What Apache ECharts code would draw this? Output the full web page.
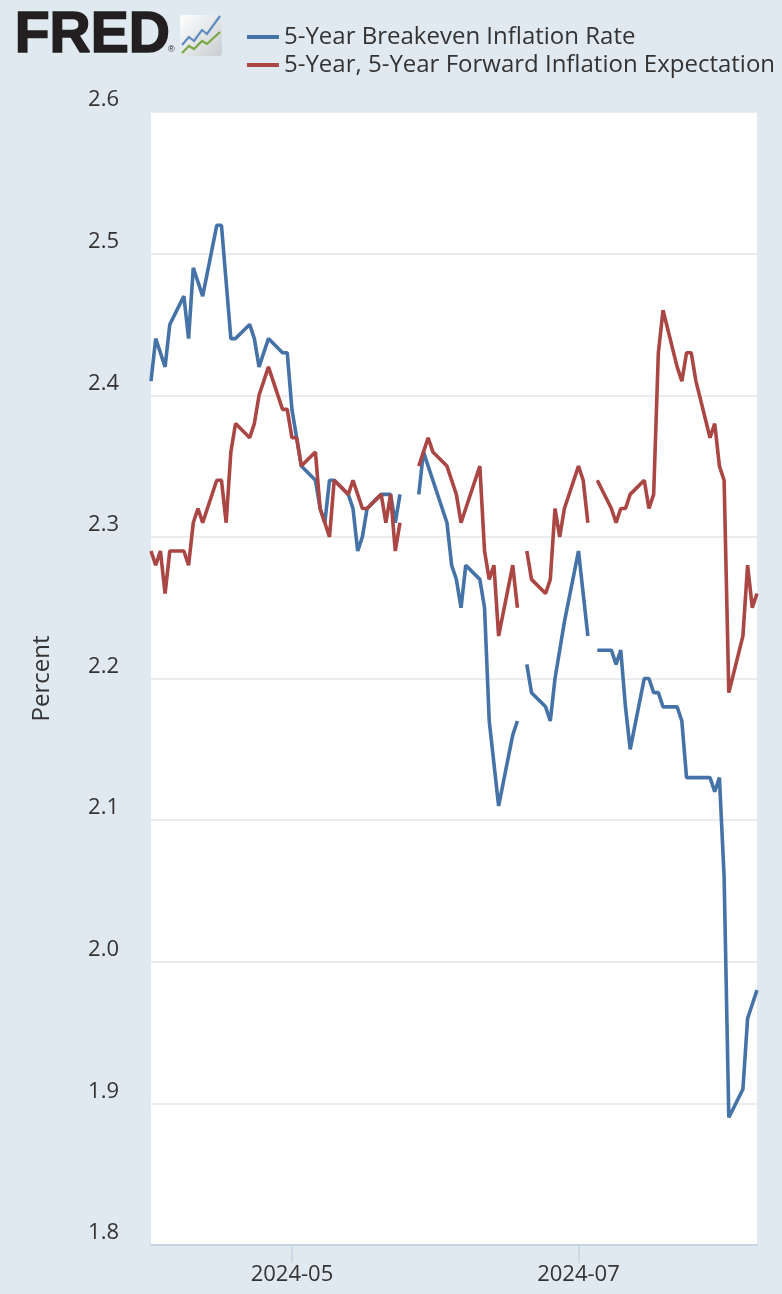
<!DOCTYPE html>
<html>
<head>
<meta charset="utf-8">
<title>FRED - 5-Year Breakeven vs 5y5y Forward</title>
<script src="https://cdn.jsdelivr.net/npm/echarts@6/dist/echarts.min.js"></script>
<style>
  html, body { margin: 0; padding: 0; background: #e1e9f0; }
  #chart { width: 782px; height: 1294px; }
</style>
</head>
<body>
<div id="chart"></div>
<script>
// axis range and labelled ticks
const startDate = '2024-04-01';
const endDate = '2024-08-08';
const tickDates = ['2024-05-01', '2024-07-01'];
const yTicks = [1.8, 1.9, 2.0, 2.1, 2.2, 2.3, 2.4, 2.5, 2.6];

const seriesNames = ['5-Year Breakeven Inflation Rate', '5-Year, 5-Year Forward Inflation Expectation'];

// 5-Year Breakeven Inflation Rate (business days, null = market holiday)
const breakevenApr = [2.41, 2.44, 2.43, 2.42, 2.45, 2.47, 2.44, 2.49, 2.48, 2.47, 2.52, 2.52, 2.48, 2.44, 2.44, 2.45, 2.44, 2.42, 2.43, 2.44, 2.43, 2.43];
const breakevenMay = [2.39, 2.37, 2.35, 2.34, 2.32, 2.31, 2.34, 2.34, 2.33, 2.32, 2.29, 2.30, 2.32, 2.33, 2.33, 2.33, 2.31, 2.33, null, 2.33, 2.36, 2.35, 2.34];
const breakevenJun = [2.31, 2.28, 2.27, 2.25, 2.28, 2.27, 2.25, 2.17, 2.14, 2.11, 2.16, 2.17, null, 2.21, 2.19, 2.18, 2.17, 2.20, 2.22, 2.24];
const breakevenJul = [2.29, 2.26, 2.23, null, 2.22, 2.22, 2.21, 2.22, 2.18, 2.15, 2.20, 2.20, 2.19, 2.19, 2.18, 2.18, 2.17, 2.13, 2.13, 2.13, 2.13, 2.12, 2.13];
const breakevenAug = [2.06, 1.89, 1.91, 1.96, 1.97, 1.98];

// 5-Year, 5-Year Forward Inflation Expectation
const forwardApr = [2.29, 2.28, 2.29, 2.26, 2.29, 2.29, 2.28, 2.31, 2.32, 2.31, 2.34, 2.34, 2.31, 2.36, 2.38, 2.37, 2.38, 2.40, 2.41, 2.42, 2.39, 2.39];
const forwardMay = [2.37, 2.37, 2.35, 2.36, 2.32, 2.31, 2.30, 2.34, 2.33, 2.34, 2.33, 2.32, 2.32, 2.33, 2.31, 2.33, 2.29, 2.31, null, 2.35, 2.36, 2.37, 2.36];
const forwardJun = [2.35, 2.34, 2.33, 2.31, 2.32, 2.35, 2.29, 2.27, 2.28, 2.23, 2.28, 2.25, null, 2.29, 2.27, 2.26, 2.27, 2.32, 2.30, 2.32];
const forwardJul = [2.35, 2.34, 2.31, null, 2.34, 2.32, 2.31, 2.32, 2.32, 2.33, 2.34, 2.32, 2.33, 2.43, 2.46, 2.42, 2.41, 2.43, 2.43, 2.41, 2.37, 2.38, 2.35];
const forwardAug = [2.34, 2.19, 2.23, 2.28, 2.25, 2.26];

function pad(n) { return n < 10 ? '0' + n : '' + n; }
function toTime(s) { const p = s.split('-'); return new Date(+p[0], +p[1] - 1, +p[2]).getTime(); }

// weekday timestamps between start and end (holidays carry null in the value arrays)
function businessDays(start, end) {
    const out = [];
    const d = new Date(toTime(start));
    const e = toTime(end);
    while (d.getTime() <= e) {
        const wd = d.getDay();
        if (wd !== 0 && wd !== 6) out.push(d.getTime());
        d.setDate(d.getDate() + 1);
    }
    return out;
}

const days = businessDays(startDate, endDate);
const breakeven = [].concat(breakevenApr, breakevenMay, breakevenJun, breakevenJul, breakevenAug);
const forward = [].concat(forwardApr, forwardMay, forwardJun, forwardJul, forwardAug);

function pairs(values) {
    return days.map((t, i) => [t, values[i] == null ? '-' : values[i]]);
}

var chartDom = document.getElementById('chart');
var myChart = echarts.init(chartDom);
var option;

var tickTimes = tickDates.map(toTime);
var fontFam = '"Open Sans", "Noto Sans", sans-serif';

option = {
    animation: false,
    backgroundColor: '#e1e9f0',
    textStyle: { fontFamily: fontFam },
    graphic: [
        {
            type: 'text', left: 14, top: 7,
            style: {
                text: 'FRED', font: 'bold 57px "Liberation Sans", Arial, sans-serif',
                fill: '#231f20', stroke: '#231f20', lineWidth: 1.6
            }
        },
        {
            type: 'text', left: 168, top: 45,
            style: { text: '®', font: '9px "Liberation Sans", sans-serif', fill: '#231f20' }
        },
        {
            type: 'rect', shape: { x: 180, y: 15, width: 42, height: 41, r: 3 },
            style: {
                fill: new echarts.graphic.LinearGradient(0, 0, 1, 1, [
                    { offset: 0, color: '#ffffff' },
                    { offset: 1, color: '#c9cdd1' }
                ])
            }
        },
        {
            type: 'polyline',
            shape: { points: [[182, 45], [189, 37], [194, 41], [202, 30], [207, 34], [220, 16]] },
            style: { stroke: '#5b8bc0', lineWidth: 2.2, fill: null }
        },
        {
            type: 'polyline',
            shape: { points: [[182, 53], [189, 46], [194, 49], [202, 41], [207, 44], [220, 32]] },
            style: { stroke: '#7aa844', lineWidth: 2.2, fill: null }
        }
    ],
    legend: {
        left: 242,
        top: 19,
        orient: 'vertical',
        itemWidth: 32,
        itemHeight: 4,
        itemGap: 2,
        icon: 'rect',
        data: seriesNames,
        textStyle: { fontSize: 24, color: '#333', lineHeight: 26, padding: [0, 0, 0, 0] },
        selectedMode: false
    },
    grid: {
        left: 151,
        top: 112,
        right: 25,
        bottom: 49,
        show: true,
        backgroundColor: '#ffffff',
        borderWidth: 0
    },
    xAxis: {
        type: 'value',
        min: toTime(startDate),
        max: toTime(endDate),
        axisLine: { lineStyle: { color: '#c6d3e4', width: 2 } },
        axisTick: { show: true, customValues: tickTimes, length: 18, lineStyle: { color: '#c6d3e4', width: 1.5 } },
        axisLabel: {
            customValues: tickTimes,
            fontSize: 22,
            color: '#333',
            margin: 19,
            formatter: function (v) {
                var d = new Date(v);
                return d.getFullYear() + '-' + pad(d.getMonth() + 1);
            }
        },
        splitLine: { show: false }
    },
    yAxis: {
        type: 'value',
        min: yTicks[0],
        max: yTicks[yTicks.length - 1],
        interval: 0.1,
        name: 'Percent',
        nameLocation: 'middle',
        nameRotate: 90,
        nameGap: 97,
        nameTextStyle: { fontSize: 24, color: '#333' },
        axisLine: { show: false },
        axisTick: { show: false },
        axisLabel: {
            fontSize: 22,
            color: '#333',
            margin: 32,
            verticalAlign: 'bottom',
            padding: [0, 0, 1, 0],
            formatter: function (v) { return v.toFixed(1); }
        },
        splitLine: { lineStyle: { color: '#e6e6e6', width: 1.5 } }
    },
    series: [
        {
            name: seriesNames[0],
            type: 'line',
            data: pairs(breakeven),
            showSymbol: false,
            connectNulls: false,
            lineStyle: { color: '#4572a7', width: 3.6 },
            itemStyle: { color: '#4572a7' }
        },
        {
            name: seriesNames[1],
            type: 'line',
            data: pairs(forward),
            showSymbol: false,
            connectNulls: false,
            lineStyle: { color: '#aa4643', width: 3.6 },
            itemStyle: { color: '#aa4643' }
        }
    ]
};

option && myChart.setOption(option);
</script>
</body>
</html>
